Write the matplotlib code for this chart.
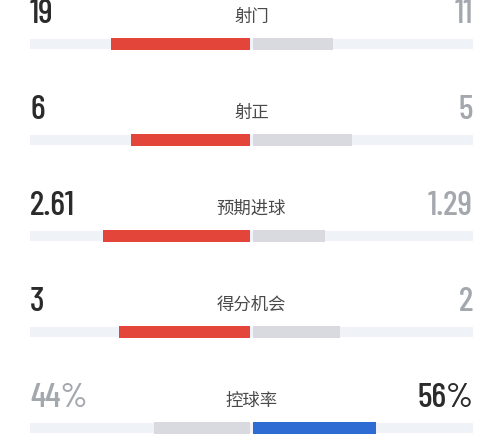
import matplotlib
matplotlib.use("Agg")
import matplotlib.pyplot as plt

labels = ["射门", "射正", "预期进球", "得分机会", "控球率"]
home = [19, 6, 2.61, 3, 44]
away = [11, 5, 1.29, 2, 56]
home_txt = ["19", "6", "2.61", "3", "44%"]
away_txt = ["11", "5", "1.29", "2", "56%"]

red = "#e4453b"
blue = "#2e6bd3"
grey = "#d8dadf"
track = "#eff2f6"
dark = "#2b2b2b"
light = "#a3a7ae"

num_font = ["Barlow Condensed", "DejaVu Sans"]
cjk_font = ["Noto Sans CJK SC", "DejaVu Sans"]

fig = plt.figure(figsize=(5, 4.4), dpi=100)
ax = fig.add_axes([0.06, 0, 0.886, 1])
ax.set_xlim(-1, 1)
ax.set_ylim(4.125, -0.458)
ax.axis("off")

gap = 0.007
for i, lab in enumerate(labels):
    tot = home[i] + away[i]
    h = home[i] / tot
    a = away[i] / tot
    home_win = home[i] >= away[i]
    # background track
    ax.barh(i, 2, left=-1, height=0.11, color=track, zorder=1)
    ax.barh(i, h - gap, left=-h, height=0.125,
            color=red if home_win else grey, zorder=2)
    ax.barh(i, a - gap, left=gap, height=0.125,
            color=grey if home_win else blue, zorder=2)
    ax.text(0, i - 0.285, lab, ha="center", va="center", fontsize=12.5,
            color="#4a4a4a", family=cjk_font)
    ax.text(-1, i - 0.31, home_txt[i], ha="left", va="center", fontsize=25,
            weight="medium", color=dark if home_win else light, family=num_font)
    ax.text(1, i - 0.31, away_txt[i], ha="right", va="center", fontsize=25,
            weight="medium", color=light if home_win else dark, family=num_font)

fig.savefig("out.png", dpi=100, facecolor="white")
